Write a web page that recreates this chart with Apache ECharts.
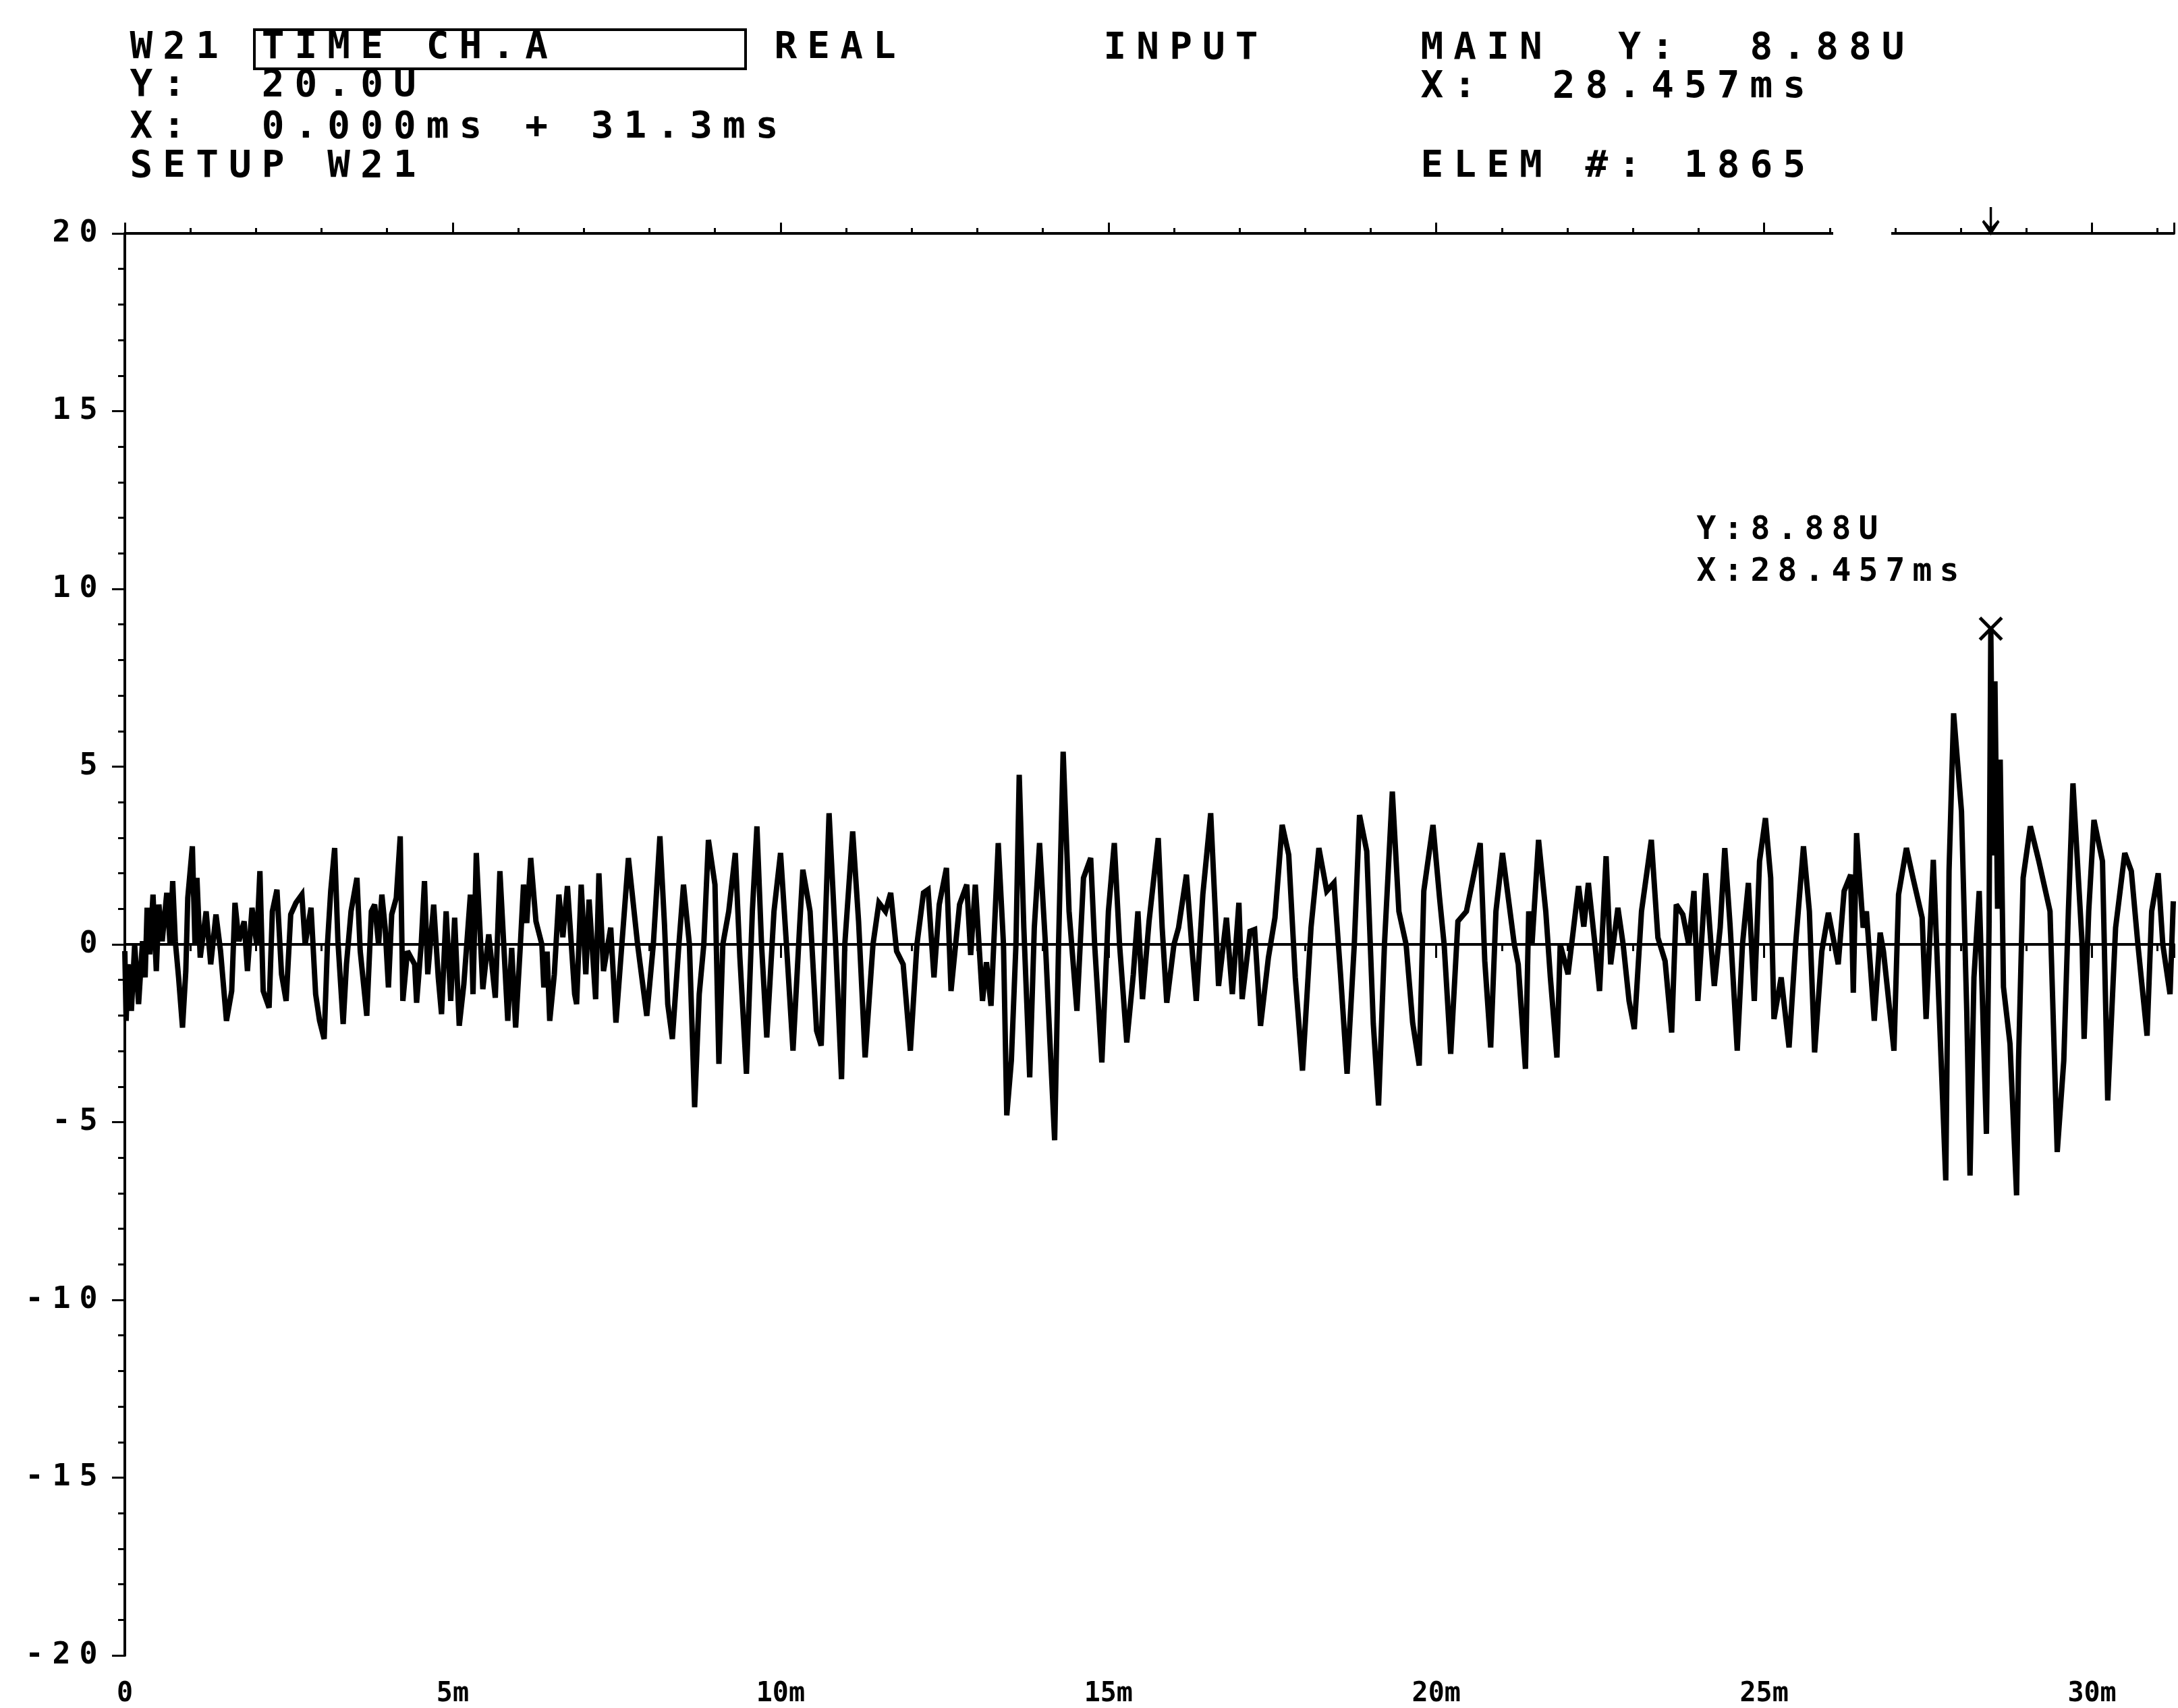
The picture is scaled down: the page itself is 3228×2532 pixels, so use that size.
<!DOCTYPE html>
<html>
<head>
<meta charset="utf-8">
<title>W21 TIME CH.A</title>
<script src="https://cdn.jsdelivr.net/npm/echarts@6/dist/echarts.min.js"></script>
<style>
  html, body { margin: 0; padding: 0; background: #fff; }
  #chart { width: 3228px; height: 2532px; }
</style>
</head>
<body>
<div id="chart"></div>
<script>
// time trace, [ms, U] in six stretches
var trace0to5 = [[0.00,-0.19],[0.02,-2.15],[0.05,-0.56],[0.10,-1.87],[0.15,0.00],[0.21,-1.68],[0.27,0.09],[0.31,-0.93],[0.34,1.03],[0.38,-0.28],[0.43,1.40],[0.48,-0.75],[0.52,1.12],[0.57,0.09],[0.64,1.45],[0.69,0.00],[0.73,1.78],[0.77,0.09],[0.82,-0.93],[0.88,-2.34],[0.93,-0.75],[0.96,1.31],[1.03,2.76],[1.07,0.00],[1.10,1.87],[1.15,-0.37],[1.24,0.93],[1.31,-0.56],[1.39,0.84],[1.46,-0.19],[1.55,-2.15],[1.63,-1.31],[1.68,1.17],[1.74,0.09],[1.82,0.65],[1.87,-0.75],[1.94,1.03],[2.01,0.00],[2.06,2.06],[2.11,-1.31],[2.20,-1.78],[2.25,0.93],[2.32,1.54],[2.39,-0.84],[2.46,-1.59],[2.53,0.84],[2.61,1.17],[2.70,1.40],[2.75,0.00],[2.84,1.03],[2.91,-1.40],[2.97,-2.15],[3.04,-2.66],[3.09,0.00],[3.14,1.50],[3.20,2.71],[3.25,0.09],[3.33,-2.24],[3.38,-0.56],[3.45,0.93],[3.54,1.87],[3.59,-0.19],[3.69,-2.01],[3.76,0.93],[3.81,1.12],[3.87,0.00],[3.92,1.40],[3.97,0.47],[4.02,-1.21],[4.07,0.84],[4.14,1.31],[4.20,3.04],[4.24,-1.59],[4.31,-0.19],[4.42,-0.56],[4.45,-1.64],[4.52,0.00],[4.57,1.78],[4.62,-0.84],[4.71,1.12],[4.78,-0.93],[4.83,-1.96],[4.90,0.93],[4.97,-1.59],[5.03,0.75],[5.10,-2.29],[5.17,-1.12],[5.27,1.40]];
var trace5to10 = [[5.31,-1.40],[5.36,2.57],[5.46,-1.26],[5.55,0.28],[5.65,-1.50],[5.72,2.06],[5.84,-2.15],[5.90,-0.10],[5.96,-2.34],[6.03,-0.09],[6.08,1.68],[6.13,0.60],[6.19,2.43],[6.27,0.65],[6.36,0.00],[6.39,-1.21],[6.44,-0.20],[6.48,-2.15],[6.55,-0.84],[6.62,1.40],[6.68,0.20],[6.75,1.64],[6.86,-1.40],[6.89,-1.68],[6.96,1.68],[7.03,-0.84],[7.08,1.26],[7.18,-1.54],[7.23,2.00],[7.30,-0.75],[7.41,0.47],[7.49,-2.20],[7.58,0.00],[7.68,2.43],[7.82,0.00],[7.96,-2.01],[8.06,0.00],[8.16,3.04],[8.23,0.56],[8.28,-1.68],[8.35,-2.66],[8.45,0.00],[8.52,1.68],[8.61,0.00],[8.69,-4.58],[8.76,-1.40],[8.83,0.00],[8.90,2.94],[9.00,1.68],[9.06,-3.36],[9.12,0.00],[9.21,0.93],[9.31,2.57],[9.38,-0.37],[9.48,-3.64],[9.57,0.93],[9.64,3.32],[9.71,0.00],[9.79,-2.62],[9.90,0.93],[10.00,2.57],[10.09,0.00],[10.19,-2.99],[10.29,0.47],[10.34,2.10],[10.45,0.93],[10.55,-2.43]];
var trace10to15 = [[10.62,-2.85],[10.74,3.69],[10.84,0.00],[10.93,-3.79],[10.98,0.00],[11.10,3.18],[11.19,0.65],[11.29,-3.18],[11.41,0.00],[11.50,1.17],[11.60,0.93],[11.68,1.45],[11.77,-0.19],[11.87,-0.56],[11.98,-2.99],[12.08,0.00],[12.18,1.45],[12.25,1.54],[12.34,-0.93],[12.42,1.12],[12.53,2.15],[12.60,-1.31],[12.73,1.12],[12.84,1.68],[12.90,-0.30],[12.97,1.68],[13.08,-1.59],[13.14,-0.50],[13.21,-1.73],[13.32,2.85],[13.40,0.00],[13.45,-4.81],[13.52,-3.27],[13.59,0.00],[13.64,4.77],[13.71,0.47],[13.80,-3.74],[13.87,0.47],[13.95,2.85],[14.04,0.00],[14.11,-2.80],[14.18,-5.51],[14.24,0.00],[14.31,5.42],[14.40,0.93],[14.52,-1.87],[14.62,1.87],[14.73,2.43],[14.79,0.00],[14.90,-3.32],[15.00,0.93],[15.09,2.85],[15.17,0.00],[15.28,-2.76],[15.38,-0.84],[15.45,0.93],[15.52,-1.54],[15.62,0.65],[15.76,2.99]];
var trace15to21 = [[15.82,0.47],[15.89,-1.64],[16.00,0.00],[16.07,0.47],[16.19,1.96],[16.27,0.00],[16.34,-1.59],[16.44,1.40],[16.56,3.69],[16.63,0.93],[16.68,-1.17],[16.80,0.75],[16.89,-1.40],[16.99,1.17],[17.04,-1.54],[17.16,0.37],[17.23,0.42],[17.32,-2.29],[17.44,-0.37],[17.54,0.75],[17.65,3.36],[17.75,2.52],[17.85,-0.93],[17.96,-3.55],[18.09,0.47],[18.21,2.71],[18.33,1.50],[18.44,1.73],[18.54,-0.84],[18.64,-3.64],[18.75,0.00],[18.83,3.64],[18.94,2.62],[19.04,-2.24],[19.12,-4.53],[19.21,0.00],[19.33,4.30],[19.43,0.93],[19.54,0.00],[19.64,-2.20],[19.74,-3.41],[19.81,1.50],[19.95,3.36],[20.05,1.31],[20.12,0.00],[20.22,-3.08],[20.33,0.65],[20.46,0.93],[20.67,2.85],[20.74,-0.47],[20.83,-2.90],[20.91,0.93],[21.01,2.57]];
var trace21to26 = [[21.19,0.00],[21.25,-0.56],[21.36,-3.50],[21.41,0.93],[21.46,0.00],[21.56,2.94],[21.67,0.93],[21.74,-0.93],[21.84,-3.18],[21.89,0.00],[22.01,-0.84],[22.17,1.64],[22.25,0.50],[22.32,1.73],[22.42,0.00],[22.49,-1.31],[22.59,2.48],[22.66,-0.56],[22.77,1.03],[22.85,0.00],[22.94,-1.59],[23.02,-2.38],[23.13,0.93],[23.28,2.94],[23.38,0.19],[23.49,-0.47],[23.59,-2.48],[23.66,1.12],[23.76,0.84],[23.85,0.00],[23.93,1.50],[23.99,-1.59],[24.11,2.00],[24.19,0.00],[24.24,-1.17],[24.33,0.47],[24.40,2.71],[24.48,0.56],[24.59,-2.99],[24.67,0.00],[24.76,1.73],[24.85,-1.59],[24.93,2.34],[25.02,3.55],[25.10,1.87],[25.15,-2.10],[25.26,-0.93],[25.38,-2.90],[25.48,0.00],[25.60,2.76],[25.69,0.93],[25.77,-3.04],[25.88,-0.19],[25.98,0.89],[26.13,-0.56],[26.22,1.50],[26.32,1.96]];
var trace26to31 = [[26.36,-1.36],[26.41,3.13],[26.51,0.47],[26.56,0.93],[26.68,-2.15],[26.77,0.33],[26.82,-0.19],[26.98,-2.99],[27.05,1.40],[27.17,2.71],[27.27,1.87],[27.41,0.75],[27.47,-2.10],[27.58,2.38],[27.68,-2.34],[27.77,-6.64],[27.82,2.06],[27.89,6.50],[28.01,3.74],[28.09,-1.87],[28.14,-6.50],[28.20,-0.93],[28.28,1.50],[28.39,-5.33],[28.43,0.50],[28.457,8.88],[28.49,2.50],[28.52,7.40],[28.56,1.00],[28.60,5.20],[28.65,-1.20],[28.75,-2.80],[28.85,-7.06],[28.88,-3.27],[28.95,1.87],[29.06,3.32],[29.19,2.34],[29.36,0.93],[29.47,-5.84],[29.57,-3.27],[29.64,0.93],[29.71,4.53],[29.85,0.00],[29.88,-2.66],[29.95,0.93],[30.03,3.50],[30.16,2.34],[30.24,-4.39],[30.36,0.47],[30.50,2.57],[30.60,2.06],[30.70,0.00],[30.84,-2.57],[30.91,0.93],[31.01,2.00],[31.08,0.00],[31.19,-1.40],[31.24,1.21]];

var cursorX = 28.457;   // ms
var cursorY = 8.88;     // U
var xLabelMs = [0, 5, 10, 15, 20, 25, 30];
var yRange = [-20, 20];
var xSpan = 31.25;

var FONT = '"DejaVu Sans Mono", "Liberation Mono", monospace';

// one rich token per character, so the letters sit on a fixed pitch like the plotter font
function spaced(s, key) {
  return s.split('').map(function (ch) { return '{' + key + '|' + ch + '}'; }).join('');
}

function headerText(str, x, y) {
  return {
    type: 'text', x: x, y: y, z: 10,
    style: {
      text: spaced(str, 'h'),
      align: 'left', verticalAlign: 'middle',
      rich: { h: { width: 48.8, align: 'center', fontSize: 56, fontWeight: 'bold', fontFamily: FONT, fill: '#000', color: '#000', lineHeight: 56 } }
    }
  };
}

var traceData = [].concat(trace0to5, trace5to10, trace10to15, trace15to21, trace21to26, trace26to31);

var myChart = echarts.init(document.getElementById('chart'));
myChart.setOption({
  animation: false,
  backgroundColor: '#fff',
  textStyle: { fontFamily: FONT, color: '#000' },
  grid: { left: 185, right: 6, top: 346, bottom: 78, outerBoundsMode: 'none' },
  xAxis: [
    { // bottom, 1 ms ticks and labels
      type: 'value', position: 'bottom', min: 0, max: xSpan, interval: 1,
      axisLine: { show: true, lineStyle: { color: '#000', width: 4 } },
      axisTick: { show: true, length: 10, lineStyle: { color: '#000', width: 3 } },
      splitLine: { show: false },
      axisLabel: {
        show: true, margin: 38, fontSize: 40, fontWeight: 'bold', fontFamily: FONT, color: '#000',
        showMaxLabel: false, hideOverlap: false,
        formatter: function (v) { return xLabelMs.indexOf(v) >= 0 ? (v === 0 ? '0' : v + 'm') : ''; }
      }
    },
    { // bottom, 5 ms ticks
      type: 'value', position: 'bottom', min: 0, max: xSpan, interval: 5,
      axisLine: { show: false }, axisLabel: { show: false }, splitLine: { show: false },
      axisTick: { show: true, length: 20, lineStyle: { color: '#000', width: 3 } }
    },
    { // top border
      type: 'value', position: 'top', min: 0, max: xSpan, interval: 1,
      axisLine: { show: true, lineStyle: { color: '#000', width: 4 } },
      axisTick: { show: true, length: 8, lineStyle: { color: '#000', width: 3 } },
      axisLabel: { show: false }, splitLine: { show: false }
    },
    {
      type: 'value', position: 'top', min: 0, max: xSpan, interval: 5,
      axisLine: { show: false }, axisLabel: { show: false }, splitLine: { show: false },
      axisTick: { show: true, length: 16, lineStyle: { color: '#000', width: 3 } }
    }
  ],
  yAxis: [
    {
      type: 'value', position: 'left', min: yRange[0], max: yRange[1], interval: 5,
      axisLine: { show: true, lineStyle: { color: '#000', width: 4 } },
      axisTick: { show: true, length: 19, lineStyle: { color: '#000', width: 3 } },
      minorTick: { show: true, splitNumber: 5, length: 10, lineStyle: { color: '#000', width: 3 } },
      splitLine: { show: false },
      axisLabel: {
        show: true, margin: 34,
        formatter: function (v) { return spaced(String(v), 'd'); },
        rich: { d: { width: 40, align: 'center', fontSize: 45, fontWeight: 'bold', fontFamily: FONT, color: '#000' } }
      }
    },
    { // right border
      type: 'value', position: 'right', min: yRange[0], max: yRange[1],
      axisLine: { show: true, lineStyle: { color: '#000', width: 3, type: [28, 8] } },
      axisTick: { show: false }, axisLabel: { show: false }, splitLine: { show: false }
    }
  ],
  graphic: [
    headerText('W21 TIME CH.A', 185, 71),
    { type: 'rect', z: 10, shape: { x: 377, y: 44, width: 728, height: 58 }, style: { fill: 'none', stroke: '#000', lineWidth: 4 } },
    headerText('REAL', 1140, 71),
    headerText('INPUT', 1628, 72),
    headerText('MAIN  Y:  ' + cursorY.toFixed(2) + 'U', 2098, 72),
    headerText('Y:  20.0U', 185, 127),
    headerText('X:  ' + cursorX.toFixed(3) + 'ms', 2098, 129),
    headerText('X:  0.000ms + 31.3ms', 185, 189),
    headerText('SETUP W21', 185, 247),
    headerText('ELEM #: 1865', 2098, 247),
    // break in the top border line
    { type: 'rect', z: 100, shape: { x: 2717, y: 334, width: 86, height: 18 }, style: { fill: '#fff' } }
  ],
  series: [
    {
      type: 'line',
      xAxisIndex: 0, yAxisIndex: 0,
      data: traceData,
      showSymbol: false,
      symbol: 'none',
      lineStyle: { color: '#000', width: 8, join: 'miter', miterLimit: 3 },
      markLine: {
        silent: true, symbol: 'none', label: { show: false },
        lineStyle: { color: '#000', width: 3, type: 'solid' },
        data: [{ yAxis: 0 }]
      },
      markPoint: {
        silent: true,
        data: [
          {
            coord: [cursorX, cursorY],
            symbol: 'path://M0,3 L3,0 L15,12 L27,0 L30,3 L18,15 L30,27 L27,30 L15,18 L3,30 L0,27 L12,15 Z',
            symbolSize: 36,
            itemStyle: { color: '#000' },
            label: {
              show: true, position: [-418, -158], align: 'left', verticalAlign: 'top',
              formatter: spaced('Y:' + cursorY.toFixed(2) + 'U', 'm') + '\n' + spaced('X:' + cursorX.toFixed(3) + 'ms', 'm'),
              rich: { m: { width: 40, align: 'left', fontSize: 48, fontWeight: 'bold', fontFamily: FONT, color: '#000', lineHeight: 62 } }
            }
          },
          {
            coord: [cursorX, yRange[1]],
            symbol: 'path://M13,0 L17,0 L17,30 L27,20 L30,23 L15,44 L0,23 L3,20 L13,30 Z',
            symbolSize: [26, 42],
            symbolOffset: [0, -18],
            itemStyle: { color: '#000' },
            label: { show: false }
          }
        ]
      }
    }
  ]
});
</script>
</body>
</html>
